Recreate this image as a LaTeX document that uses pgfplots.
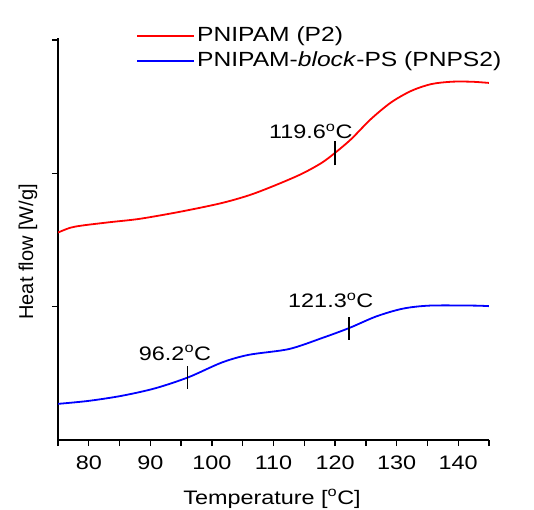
\documentclass[border=0pt]{standalone}
\usepackage{pgfplots}
\pgfplotsset{compat=1.18}
\usepackage{fontspec}
\setmainfont{Liberation Sans}[FakeStretch=1.2]
\newfontfamily\yfont{Liberation Sans}
\begin{document}
\begin{tikzpicture}[font=\fontsize{19.5bp}{23bp}\selectfont]
\useasboundingbox (0,0) rectangle (534bp,510bp);
\begin{axis}[
  at={(58bp,70bp)}, anchor=south west,
  scale only axis, width=431bp, height=402bp,
  xmin=75, xmax=145, ymin=0, ymax=3.015,
  axis lines*=left,
  axis line style={line width=1.5bp},
  xtick={80,90,...,140},
  minor xtick={75,85,...,145},
  ytick={1,2,3}, yticklabels={},
  tick align=outside,
  major tick length=6bp, minor tick length=6bp,
  every tick/.style={black, line width=1.3bp},
  /pgf/number format/assume math mode=true,
  xticklabel style={yshift=-6bp},
  xlabel={Temperature [\textsuperscript{o}C]},
  xlabel style={at={(axis description cs:0.4965,0)}, yshift=-59bp, anchor=center},
  ylabel={\yfont\fontsize{20bp}{24bp}\selectfont Heat flow [W/g]},
  ylabel style={at={(axis description cs:-0.0696,0.468)}, anchor=center},
  legend style={at={(rel axis cs:0.181,1.037)}, anchor=north west, draw=none, fill=none,
    inner xsep=0pt, inner ysep=0pt, row sep=0pt,
    font=\fontsize{20.5bp}{24bp}\selectfont,
    nodes={text height=15bp, text depth=4bp, inner ysep=3bp}},
  legend cell align=left,
  legend image code/.code={\draw[#1] (0bp,0bp) -- (57bp,0bp);},
]
\addlegendimage{red, line width=2bp}
\addlegendentry{PNIPAM (P2)}
\addlegendimage{blue, line width=2bp}
\addlegendentry{PNIPAM-\textit{block}-PS (PNPS2)}
\addplot[red, line width=1.8bp, smooth, forget plot] coordinates {
(75,1.556) (77,1.592) (79,1.609) (83.5,1.634) (88.3,1.659) (94.85,1.712) (101.4,1.775) (106,1.835) (110,1.905) (114.4,1.992) (117.7,2.075) (119.9,2.150) (122.6,2.256) (125.8,2.406) (129.1,2.532) (132.4,2.619) (135.6,2.669) (138.9,2.687) (142.2,2.687) (145,2.678)};
\addplot[blue, line width=1.8bp, smooth, forget plot] coordinates {
(75,0.271) (79.9,0.293) (85.3,0.331) (90.8,0.388) (96.2,0.471) (101.6,0.581) (106.0,0.639) (112.5,0.682) (117.9,0.765) (122.3,0.840) (126.7,0.927) (131.0,0.985) (135.4,1.008) (142.4,1.008) (145,1.004)};
\addplot[black, line width=1.3bp, forget plot] coordinates {(119.97,2.06) (119.97,2.24)};
\addplot[black, line width=1.3bp, forget plot] coordinates {(96.0,0.383) (96.0,0.556)};
\addplot[black, line width=1.3bp, forget plot] coordinates {(122.25,0.752) (122.25,0.925)};
\node at (axis cs:116.05,2.316) {119.6\textsuperscript{o}C};
\node at (axis cs:94.0,0.654) {96.2\textsuperscript{o}C};
\node at (axis cs:119.3,1.045) {121.3\textsuperscript{o}C};
\end{axis}
\end{tikzpicture}
\end{document}
